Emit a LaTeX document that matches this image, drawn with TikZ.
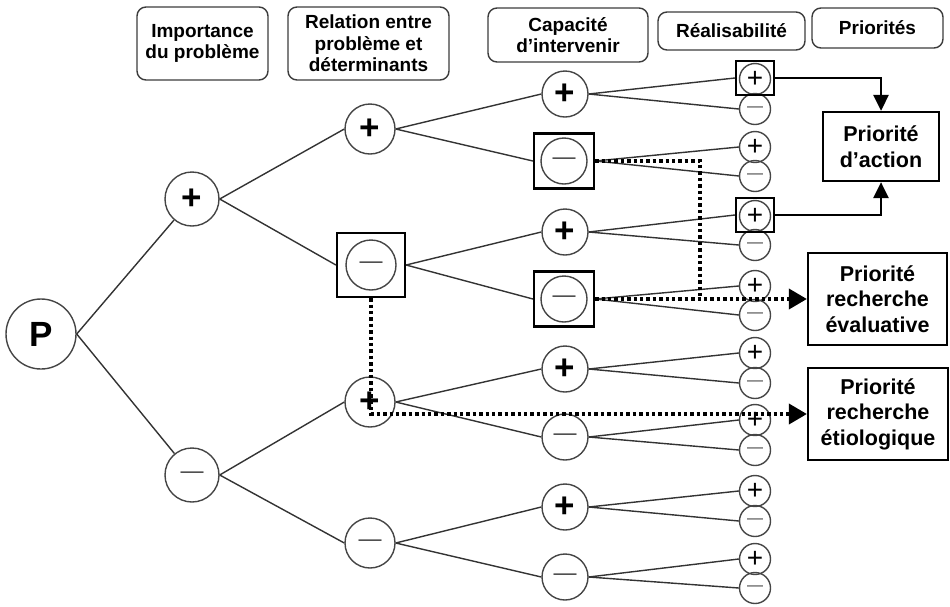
\documentclass[tikz,border=0pt]{standalone}
\usepackage{fontspec}
\setmainfont{Liberation Sans}
\usetikzlibrary{arrows.meta}
\definecolor{ring}{HTML}{454545}
\definecolor{edge}{HTML}{333333}
\definecolor{frame}{HTML}{3C3C3C}
\newcommand{\pls}{\textbf{+}}
\newcommand{\mns}{\textcolor{ring}{—}}
\begin{document}
\begin{tikzpicture}[x=1pt,y=-1pt,
  hdr/.style={draw=frame, line width=1.4pt, rounded corners=9pt, inner sep=0pt,
    align=center, font=\bfseries\fontsize{19}{21.5}\selectfont},
  prio/.style={draw=black, line width=2.2pt, inner sep=0pt, align=center,
    font=\bfseries\fontsize{21.5}{25.5}\selectfont},
  ringnode/.style={circle, draw=ring, line width=1.4pt, inner sep=0pt},
  root/.style={ringnode, minimum size=70pt, font=\bfseries\fontsize{35}{35}\selectfont},
  lvA/.style={ringnode, minimum size=54pt},
  lvB/.style={ringnode, minimum size=50pt},
  lvC/.style={ringnode, minimum size=46pt},
  lvD/.style={ringnode, minimum size=31pt},
  bigplus/.style={font=\fontsize{35}{35}\selectfont},
  bigminus/.style={font=\fontsize{23}{23}\selectfont},
  smallplus/.style={font=\fontsize{28}{28}\selectfont},
  smallminus/.style={font=\fontsize{16}{16}\selectfont},
  sqframe/.style={draw=black, line width=2.2pt, inner sep=0pt},
  link/.style={draw=edge, line width=1.4pt},
  solidarrow/.style={line width=2.8pt, -{Triangle[length=16pt,width=15pt]}},
  dotline/.style={line width=3.6pt, dash pattern=on 3.4pt off 3pt},
  dotarrow/.style={dotline, -{Triangle[length=18pt,width=20pt]}}
]
\useasboundingbox (0,0) rectangle (950,606);

% column headings
\node[hdr, minimum width=131pt, minimum height=73pt] (h1) at (202.5,43.5) {Importance\\du problème};
\node[hdr, minimum width=161pt, minimum height=73pt] (h2) at (368.5,43.5) {Relation entre\\problème et\\déterminants};
\node[hdr, minimum width=160pt, minimum height=54pt] (h3) at (568,35) {Capacité\\d’intervenir};
\node[hdr, minimum width=147pt, minimum height=38pt] (h4) at (731.5,31) {Réalisabilité};
\node[hdr, minimum width=131pt, minimum height=40pt] (h5) at (877.5,28) {Priorités};

% root and first level
\node[root] (P) at (41,334) {P};
\node[lvA, bigplus] (a) at (192,199) {\pls};
\node[lvA, bigminus] (b) at (192,475) {\mns};

% second level
\node[lvB, bigplus] (aa) at (370,129) {\pls};
\node[lvB, bigminus] (ab) at (371,265) {\mns};
\node[sqframe, minimum width=68pt, minimum height=64pt] (qab) at (371,265) {};
\node[lvB, bigplus] (ba) at (370,402) {\pls};
\node[lvB, bigminus] (bb) at (370,543) {\mns};

% third level
\node[lvC, bigplus] (aaa) at (565,94) {\pls};
\node[lvC, bigminus] (aab) at (564,161) {\mns};
\node[sqframe, minimum width=60pt, minimum height=55pt] (qaab) at (564,161) {};
\node[lvC, bigplus] (aba) at (565,232) {\pls};
\node[lvC, bigminus] (abb) at (564,299) {\mns};
\node[sqframe, minimum width=60pt, minimum height=55pt] (qabb) at (564,299) {};
\node[lvC, bigplus] (baa) at (565,369) {\pls};
\node[lvC, bigminus] (bab) at (565,437) {\mns};
\node[lvC, bigplus] (bba) at (565,507) {\pls};
\node[lvC, bigminus] (bbb) at (565,577) {\mns};

% fourth level: feasibility pairs
\foreach \i/\yp/\ym in {1/79/109, 2/147/176, 3/216/245, 4/286/315,
                        5/353/383, 6/420/450, 7/491/521, 8/559/588} {
  \node[lvD, smallplus] (r\i-p) at (755,\yp) {+};
  \node[lvD, smallminus] (r\i-m) at (755,\ym) {\mns};
}
\node[sqframe, minimum width=38pt, minimum height=34pt] (q1) at (755,78) {};
\node[sqframe, minimum width=38pt, minimum height=34pt] (q3) at (755,215) {};

% priority boxes
\node[prio, minimum width=116pt, minimum height=69pt] (act) at (881,146.5) {Priorité\\d’action};
\node[prio, minimum width=139pt, minimum height=92pt] (eva) at (877.5,299) {Priorité\\recherche\\évaluative};
\node[prio, minimum width=140pt, minimum height=92pt] (eti) at (878,414) {Priorité\\recherche\\étiologique};

% tree branches
\draw[link] (P.east) -- (a);
\draw[link] (P.east) -- (b);
\draw[link] (a.east) -- (aa.west);
\draw[link] (a.east) -- (qab.west);
\draw[link] (b.east) -- (ba.west);
\draw[link] (b.east) -- (bb.west);
\draw[link] (aa.east) -- (aaa.west);
\draw[link] (aa.east) -- (qaab.west);
\draw[link] (qab.east) -- (aba.west);
\draw[link] (qab.east) -- (qabb.west);
\draw[link] (ba.east) -- (baa.west);
\draw[link] (ba.east) -- (bab.west);
\draw[link] (bb.east) -- (bba.west);
\draw[link] (bb.east) -- (bbb.west);
\draw[link] (aaa.east) -- (q1.west);
\draw[link] (aaa.east) -- (r1-m.west);
\draw[link] (aba.east) -- (q3.west);
\draw[link] (aba.east) -- (r3-m.west);
\foreach \s/\i in {qaab/2, qabb/4, baa/5, bab/6, bba/7, bbb/8} {
  \draw[link] (\s.east) -- (r\i-p.west);
  \draw[link] (\s.east) -- (r\i-m.west);
}

% action priority
\draw[solidarrow] (q1.east) -| (act.north);
\draw[solidarrow] (q3.east) -| (act.south);

% research priorities
\coordinate (j) at (700,299);
\draw[dotline] (qaab.east) -| (j);
\draw[dotarrow] (qabb.east) -- (eva.west);
\draw[dotarrow] (qab.south) |- (eti.west);
\end{tikzpicture}
\end{document}
